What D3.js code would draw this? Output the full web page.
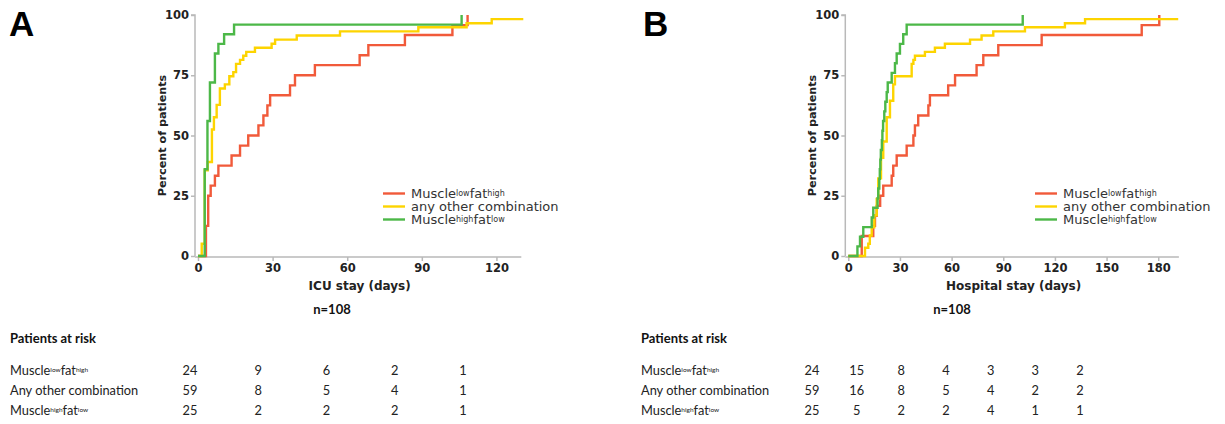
<!DOCTYPE html>
<html>
<head>
<meta charset="utf-8">
<script src="https://cdn.jsdelivr.net/npm/d3@7"></script>
<style>
  html, body { margin: 0; padding: 0; background: #fff; }
  svg { display: block; }
</style>
</head>
<body>
<svg id="chart" width="1225" height="424"></svg>
<script>
// ---------- DATA ----------
const yTicks = [0, 25, 50, 75, 100];
const xTicksA = [0, 30, 60, 90, 120];
const xTicksB = [0, 30, 60, 90, 120, 150, 180];
const groupNames = ["Muscle^low^fat^high", "any other combination", "Muscle^high^fat^low"];
const riskLabels = ["Muscle^low^fat^high", "Any other combination", "Muscle^high^fat^low"];

// Panel A: ICU stay, [day, percent]
const icuLowHigh = [[0,0],[3.2,12.5],[4.1,25],[5.1,29.2],[6.8,33.3],[8.2,37.5],[13.5,41.7],[16.9,45.8],[20.2,50],[24.3,54.2],[26.3,58.3],[27.9,62.5],[29,66.7],[37,70.8],[39,75],[47,79.2],[65,83.3],[68.5,87.5],[83.2,91.7],[102.3,95.8],[108.4,100]];
const icuOther = [[0,0],[1.5,5.1],[2.7,35.6],[3.9,39],[5.6,52.5],[6.4,57.6],[7.5,62.7],[8.8,69.5],[10.8,71.2],[12.6,74.6],[14.2,76.3],[15.3,79.7],[16.9,81.4],[18.2,83.1],[19.4,84.7],[22.9,86.4],[29.6,88.1],[31,89.8],[39.7,91.5],[57.1,93.2],[88.6,94.9],[108,96.6],[118.1,98.3],[130.8,98.3]];
const icuHighLow = [[0,0],[2.7,36],[3.8,56],[4.8,72],[6.8,84],[8.2,88],[10.5,92],[14.5,96],[106,100]];

// Panel B: Hospital stay, [day, percent]
const hospLowHigh = [[0,0],[7.8,8.3],[14.5,12.5],[15.5,16.7],[16.5,20.8],[18.5,25],[20.3,29.2],[25.2,33.3],[26.1,37.5],[28.1,41.7],[33.9,45.8],[37.8,50],[38.7,54.2],[40.6,58.3],[46.5,62.5],[47.4,66.7],[58,70.8],[62,75],[74.5,79.2],[78.4,83.3],[87.1,87.5],[112.3,91.7],[170.4,95.8],[180.6,100]];
const hospOther = [[0,0],[9.7,3.4],[11.6,5.1],[12.5,8.5],[13.6,11.9],[15.1,16.9],[16.5,23.7],[17.4,32.2],[19,40.7],[20.3,47.5],[22.3,57.6],[24.2,64.4],[26.1,71.2],[27.1,74.6],[36.8,79.7],[37.8,81.4],[38.7,83.1],[44.5,84.7],[50.3,86.4],[56.1,88.1],[70.7,89.8],[77.4,91.5],[84.2,93.2],[102.6,94.9],[125.8,96.6],[137.5,98.3],[191.6,98.3]];
const hospHighLow = [[0,0],[5.3,4],[6.8,8],[8.7,12],[13.6,16],[14.5,20],[17,24],[17.4,28],[18,32],[18.3,36],[18.6,40],[18.9,44],[19.5,48],[19.8,52],[20.2,56],[20.9,60],[21.5,64],[22.3,68],[22.9,72],[25.2,76],[27.1,80],[28.1,84],[30,88],[31.9,92],[33.9,96],[101.3,100]];

// Patients at risk
const riskTimesA = [0, 30, 60, 90, 120];
const riskA_lowHigh = [24, 9, 6, 2, 1];
const riskA_other = [59, 8, 5, 4, 1];
const riskA_highLow = [25, 2, 2, 2, 1];
const riskTimesB = [0, 30, 60, 90, 120, 150, 180];
const riskB_lowHigh = [24, 15, 8, 4, 3, 3, 2];
const riskB_other = [59, 16, 8, 5, 4, 2, 2];
const riskB_highLow = [25, 5, 2, 2, 4, 1, 1];

const nLabel = "n=108";

// ---------- STYLE ----------
const colors = ["#f15a3a", "#fdd400", "#4cb848"];
const axisColor = "#b9b9b9";
const font = "'DejaVu Sans', Verdana, sans-serif";
const tableFont = "Lato, 'Open Sans', sans-serif";

const svg = d3.select("#chart");

// text with ^superscript^ markers: "Muscle^low^fat^high"
function richText(sel, str, supSize, shift) {
  const parts = str.split("^");
  parts.forEach((p, i) => {
    if (!p) return;
    const isSup = i % 2 === 1;
    const t = sel.append("tspan").text(p);
    if (isSup) {
      t.attr("font-size", supSize).attr("baseline-shift", shift);
    }
  });
}

function panel(cfg) {
  const g = svg.append("g");
  const x = d3.scaleLinear().domain(cfg.xDomain).range(cfg.xRange);
  const y = d3.scaleLinear().domain([0, 100]).range([256, 15]);

  // panel letter
  svg.append("text").attr("x", cfg.letterX).attr("y", 36)
    .attr("font-family", "'Liberation Sans', Arial, sans-serif")
    .attr("font-weight", "bold").attr("font-size", 35).attr("fill", "#000")
    .text(cfg.letter);

  // y axis (offset left)
  const yAxis = g.append("g").attr("transform", `translate(${cfg.xRange[0] - 3},0)`)
    .call(d3.axisLeft(y).tickValues(yTicks).tickSize(4).tickPadding(2));
  // x axis
  const xAxis = g.append("g").attr("transform", `translate(0,${y(0) + 1})`)
    .call(d3.axisBottom(x).tickValues(cfg.xTicks).tickSize(4).tickPadding(3));

  [yAxis, xAxis].forEach(a => {
    a.select(".domain").attr("stroke", axisColor).attr("stroke-width", 1.5);
    a.selectAll(".tick line").attr("stroke", axisColor).attr("stroke-width", 1.5);
    a.selectAll(".tick text").attr("fill", "#222").attr("font-family", font)
      .attr("font-weight", "bold").attr("font-size", 11.5);
  });
  yAxis.select(".domain").attr("d", `M-4,${y(100)}H0V${y(0)}`);
  xAxis.select(".domain").attr("d", `M${cfg.xRange[0] - 3},0H${cfg.xRange[1]}`);

  // axis titles
  g.append("text").attr("x", (cfg.xRange[0] + cfg.xRange[1]) / 2).attr("y", 289.5)
    .attr("text-anchor", "middle").attr("font-family", font).attr("font-weight", "bold")
    .attr("font-size", 12).attr("fill", "#222").text(cfg.xTitle);
  g.append("text")
    .attr("transform", `translate(${cfg.xRange[0] - 32},${(y(0) + y(100)) / 2}) rotate(-90)`)
    .attr("text-anchor", "middle").attr("font-family", font).attr("font-weight", "bold")
    .attr("font-size", 11.2).attr("fill", "#222").text("Percent of patients");

  // curves
  const line = d3.line().x(d => x(d[0])).y(d => y(d[1])).curve(d3.curveStepAfter);
  cfg.series.forEach((s, i) => {
    g.append("path").datum(s).attr("d", line)
      .attr("fill", "none").attr("stroke", colors[i]).attr("stroke-width", 2.4)
      .attr("stroke-linejoin", "miter");
  });

  // legend
  const lg = g.append("g").attr("transform", `translate(${cfg.legendX},193.5)`);
  groupNames.forEach((name, i) => {
    const row = lg.append("g").attr("transform", `translate(0,${i * 13})`);
    row.append("line").attr("x1", 0).attr("x2", 22).attr("y1", 0).attr("y2", 0)
      .attr("stroke", colors[i]).attr("stroke-width", 2.4);
    const t = row.append("text").attr("x", 28).attr("y", 4.5)
      .attr("font-family", font).attr("font-size", 13).attr("fill", "#333");
    richText(t, name, 8, "30%");
  });

  // n label
  svg.append("text").attr("x", cfg.nX).attr("y", 314).attr("text-anchor", "middle")
    .attr("font-family", tableFont).attr("font-weight", "bold").attr("font-size", 13)
    .attr("fill", "#111").text(nLabel);

  // risk table
  svg.append("text").attr("x", cfg.tableX).attr("y", 343)
    .attr("font-family", tableFont).attr("font-weight", "bold").attr("font-size", 13)
    .attr("fill", "#111").text("Patients at risk");
  const col = d3.scalePoint().domain(cfg.riskTimes).range(cfg.colRange);
  const rowY = [375, 395, 414.5];
  cfg.risk.forEach((vals, r) => {
    const t = svg.append("text").attr("x", cfg.tableX).attr("y", rowY[r])
      .attr("font-family", tableFont).attr("font-size", 12.8).attr("fill", "#222");
    richText(t, riskLabels[r], 6.5, "40%");
    vals.forEach((v, k) => {
      svg.append("text").attr("x", col(cfg.riskTimes[k])).attr("y", rowY[r])
        .attr("text-anchor", "middle").attr("font-family", tableFont)
        .attr("font-size", 12.8).attr("fill", "#222").text(v);
    });
  });
}

panel({
  letter: "A", letterX: 9,
  xDomain: [0, 130], xRange: [198, 521.3], xTicks: xTicksA,
  xTitle: "ICU stay (days)",
  series: [icuLowHigh, icuOther, icuHighLow],
  legendX: 383,
  nX: 332, tableX: 10,
  riskTimes: riskTimesA, colRange: [190, 463],
  risk: [riskA_lowHigh, riskA_other, riskA_highLow]
});

panel({
  letter: "B", letterX: 643,
  xDomain: [0, 192], xRange: [848.3, 1178.9], xTicks: xTicksB,
  xTitle: "Hospital stay (days)",
  series: [hospLowHigh, hospOther, hospHighLow],
  legendX: 1035,
  nX: 952, tableX: 641,
  riskTimes: riskTimesB, colRange: [812, 1080],
  risk: [riskB_lowHigh, riskB_other, riskB_highLow]
});
</script>
</body>
</html>
